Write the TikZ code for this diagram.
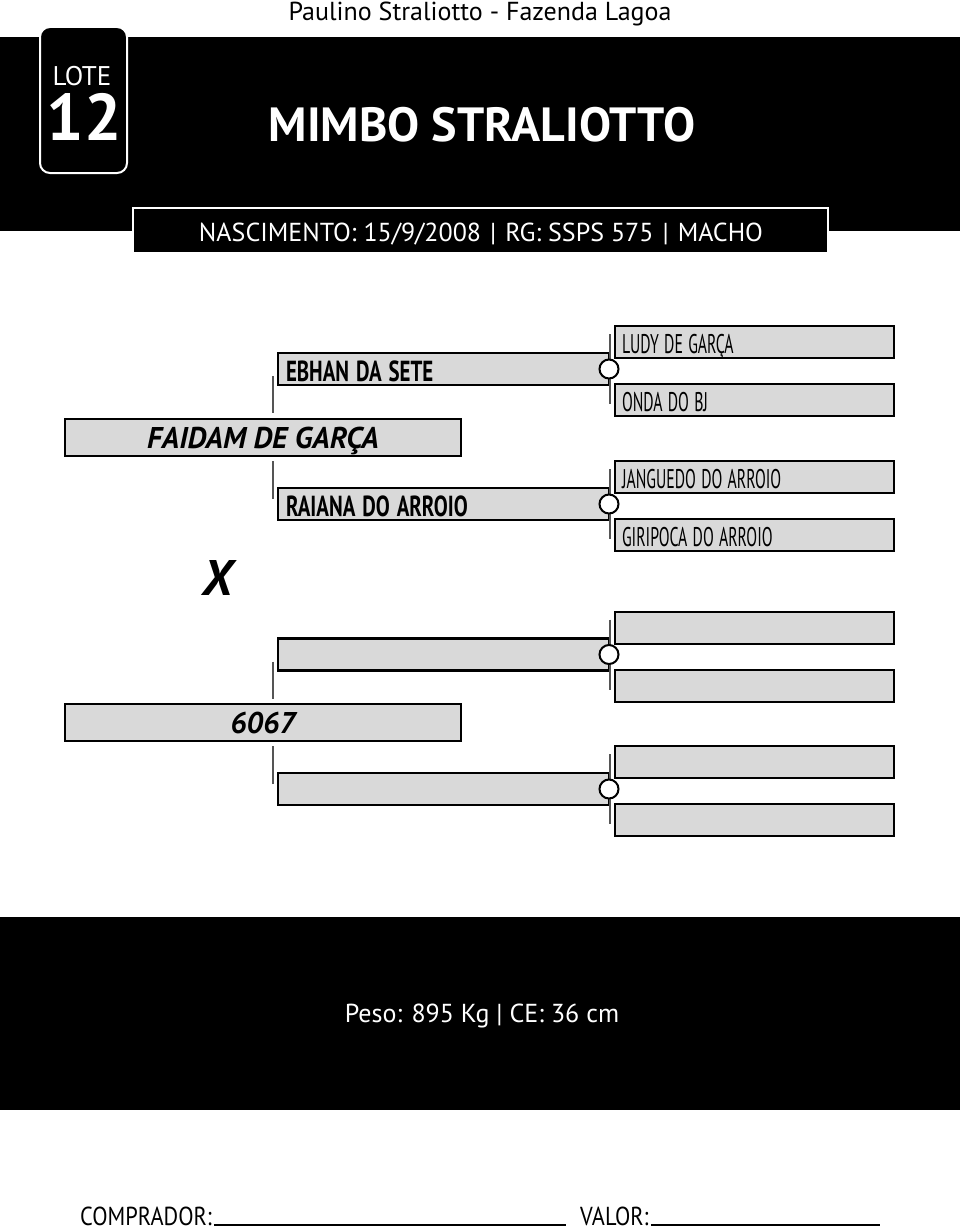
\documentclass[tikz,border=0pt]{standalone}
\usepackage{fontspec}
\usepackage{graphicx}
\setmainfont{PT Sans}
\newcommand{\estreito}[2][0.585]{\scalebox{#1}[1]{#2}}
\usetikzlibrary{positioning}
\definecolor{lotepreto}{HTML}{000000}
\definecolor{lotebranco}{HTML}{FFFFFF}
\definecolor{lotecinza}{HTML}{D9D9D9}
\definecolor{lotelinha}{HTML}{555555}

\begin{document}
\begin{tikzpicture}[x=1pt, y=-1pt,
    caixa/.style={draw=lotepreto, fill=lotecinza, line width=2.4pt, inner sep=0pt, outer sep=0pt, text depth=0pt},
    pai/.style={caixa, minimum width=396pt, minimum height=37pt, font=\fontsize{30}{30}\selectfont\bfseries\itshape},
    avo/.style={caixa, minimum width=331pt, minimum height=32pt, text width=315pt, text height=24.5pt, align=left, font=\fontsize{29}{29}\selectfont\bfseries},
    bisavo/.style={caixa, minimum width=279pt, minimum height=32pt, text width=265pt, text height=22.5pt, align=left, font=\fontsize{27}{27}\selectfont},
    elo/.style={circle, draw=lotepreto, fill=lotebranco, line width=2pt, minimum size=19pt, inner sep=0pt},
    traco/.style={lotelinha, line width=1.2pt},
    branco/.style={text=lotebranco, inner sep=0pt}]
    \useasboundingbox (0,0) rectangle (960,1231);
    % cabecalho
    \node[anchor=base, inner sep=0pt, font=\fontsize{26}{26}\selectfont] (fazenda) at (480,21) {Paulino Straliotto - Fazenda Lagoa};
    \fill[lotepreto] (0,37) rectangle (960,231);
    \node[draw=lotebranco, fill=lotepreto, line width=2pt, rounded corners=10pt, minimum width=87pt, minimum height=146pt] (lote) at (83.5,100) {};
    \node[branco, anchor=base, font=\fontsize{27}{27}\selectfont] (lotetxt) at (82,85) {LOTE};
    \node[branco, anchor=base, font=\fontsize{66}{66}\selectfont\bfseries] (lotenum) at (84,140) {12};
    \node[branco, anchor=base, font=\fontsize{48}{48}\selectfont\bfseries] (nome) at (482,141) {MIMBO STRALIOTTO};
    \node[draw=lotebranco, fill=lotepreto, line width=2pt, minimum width=695pt, minimum height=45pt] (info) at (480.5,230.5) {};
    \node[branco, anchor=base, font=\fontsize{26}{26}\selectfont] (infotxt) at (481,241)
      {NASCIMENTO: 15/9/2008\hspace{9pt}|\hspace{9pt}RG: SSPS 575\hspace{9pt}|\hspace{9pt}MACHO};

    % lado do pai
    \node[pai] (pai) at (263,437.5) {FAIDAM DE GARÇA};
    \node[avo] (avopp) at (443.5,369) {\estreito[0.72]{EBHAN DA SETE}};
    \node[avo] (avopm) at (443.5,504) {\estreito[0.72]{RAIANA DO ARROIO}};
    \node[bisavo] (b1) at (754.5,342) {\estreito{LUDY DE GARÇA}};
    \node[bisavo] (b2) at (754.5,400) {\estreito{ONDA DO BJ}};
    \node[bisavo] (b3) at (754.5,477) {\estreito{JANGUEDO DO ARROIO}};
    \node[bisavo] (b4) at (754.5,535) {\estreito{GIRIPOCA DO ARROIO}};

    \node[anchor=base, inner sep=0pt, font=\fontsize{50}{50}\selectfont\bfseries\itshape] (cruza) at (218,595) {X};

    % lado da mae
    \node[pai] (mae) at (263,722.5) {6067};
    \node[avo] (avomp) at (443.5,654.5) {};
    \node[avo] (avomm) at (443.5,789) {};
    \node[bisavo] (b5) at (754.5,628) {};
    \node[bisavo] (b6) at (754.5,686) {};
    \node[bisavo] (b7) at (754.5,762) {};
    \node[bisavo] (b8) at (754.5,820) {};

    % tracos e elos
    \foreach \a in {avopp, avomp} {
      \draw[traco] ([xshift=-5pt]\a.west) ++(0,7) -- ++(0,37);
    }
    \foreach \a in {avopm, avomm} {
      \draw[traco] ([xshift=-5pt]\a.west) ++(0,-5) -- ++(0,-38);
    }
    \foreach \a/\e in {avopp/e1, avopm/e2, avomp/e3, avomm/e4} {
      \draw[traco] ([xshift=1pt]\a.east) ++(0,-35) -- ++(0,70);
      \node[elo] (\e) at (\a.east) {};
    }

    % rodape
    \fill[lotepreto] (0,917) rectangle (960,1110);
    \node[branco, anchor=base, font=\fontsize{26}{26}\selectfont] (peso) at (482,1022) {Peso: 895 Kg | CE: 36 cm};
    \node[anchor=base west, inner sep=0pt, font=\fontsize{26}{26}\selectfont] (comprador) at (80,1225) {\estreito[0.86]{COMPRADOR:}};
    \node[anchor=base west, inner sep=0pt, font=\fontsize{26}{26}\selectfont] (valor) at (580,1225) {\estreito[0.86]{VALOR:}};
    \coordinate (fimcomprador) at (566,1225);
    \coordinate (fimvalor) at (880,1225);
    \draw[lotepreto, line width=1.8pt] ([xshift=2pt]comprador.base east) -- (fimcomprador);
    \draw[lotepreto, line width=1.8pt] ([xshift=2pt]valor.base east) -- (fimvalor);
\end{tikzpicture}
\end{document}
